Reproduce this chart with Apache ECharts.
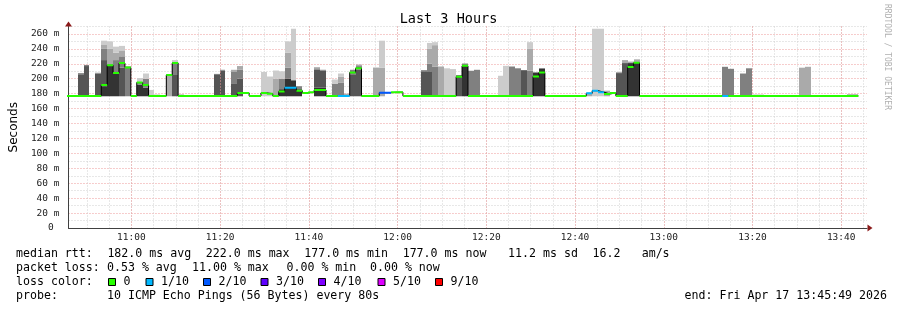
<!DOCTYPE html>
<html><head><meta charset="utf-8">
<script src="https://cdn.jsdelivr.net/npm/echarts@6/dist/echarts.min.js"></script>
<style>html,body{margin:0;padding:0;background:#fff}#c{width:897px;height:310px}</style>
</head><body><div id="c"></div>
<script>
// ---------- data ----------
const chartTitle = 'Last 3 Hours';
const endTime = '13:45:49';
const spanMinutes = 180;
const firstStepStart = '10:45:12';
const stepSeconds = 80;

// median rtt per 80 s step (ms)
const median = [
  177,177,177,177,177,177,191.5,218,207.6,221,
  215,177,195,191.5,177,177,177,205,221,177,
  177,177,177,177,177,177,177,177,177,181,
  181,177,177,181,180,177,183,188,188,184,
  181,182,185,185,177,177,177,177,208.4,214,
  177,177,177,181.3,181.3,182,182,177,177,177,
  177,177,177,177,177,177,202.7,217.3,177,177,
  177,177,177,177,177,177,177,177,177,203,
  208.4,177,177,177,177,177,177,177,180.4,184,
  182,179.5,181,177,177,215.6,221.3,177,177,177,
  177,177,177,177,177,177,177,177,177,177,
  177,177,177,177,177,177,177,177,177,177,
  177,177,177,177,177,177,177,177,177,177,
  177,177,177,177,null,null
];
// lost pings out of 10 per step
const loss = [
  0,0,0,0,0,0,0,0,0,0, 0,0,0,0,0,0,0,0,0,0,
  0,0,0,0,0,0,0,0,0,0, 0,0,0,0,0,0,0,1,1,0,
  0,0,0,0,0,0,1,1,0,0, 0,0,0,2,2,0,0,0,0,0,
  0,0,0,0,0,0,0,0,0,0, 0,0,0,0,0,0,0,0,0,0,
  0,0,0,0,0,0,0,0,1,1, 1,0,0,0,0,0,0,0,0,0,
  0,0,0,0,0,0,0,0,0,0, 0,1,0,0,0,0,0,0,0,0,
  0,0,0,0,0,0,0,0,0,0, 0,0,0,0,0,0
];
// smoke band tops, [step, top ms], darkest band first
const smokeL1 = [[6,190],[7,218],[8,207],[12,192],[13,188],[36,186],[37,200],[38,198],[39,186],[42,188],[43,188],[67,217],[79,208.4],[80,213.8],[95,221],[96,221]];
const smokeL2 = [[2,206],[3,217],[5,207],[6,225],[9,215],[18,205],[25,205],[26,210.7],[28,193],[29,200],[42,212],[43,211],[48,206],[49,212],[60,210],[61,210],[66,203],[77,211.5],[93,207.6],[94,221]];
const smokeL3 = [[2,207.5],[3,218.5],[5,208],[6,240],[8,225],[9,230],[10,215],[12,196],[13,200],[18,222],[25,206.5],[26,212],[28,209],[29,212],[36,200],[37,215],[39,190],[42,214],[43,212],[45,193],[46,195],[48,212],[49,217],[60,211.5],[61,220],[62,216],[66,205],[67,220.4],[68,210.7],[69,212],[75,216.4],[76,214],[78,211],[111,216],[112,213.3],[114,207],[115,214]];
const smokeL4 = [[6,246],[7,240],[8,235],[9,238],[10,217],[17,205],[19,179],[28,212],[29,217],[35,200],[37,235],[42,215.5],[46,203],[47,180],[49,219],[52,215],[53,215],[61,240],[62,245],[63,216.4],[78,240],[88,181],[91,184],[93,209],[94,225],[95,223],[96,226],[124,214.7],[125,216],[132,179.3],[133,179.3]];
const smokeL5 = [[6,251],[7,250],[8,243],[9,244],[12,201],[13,207],[14,185],[15,179],[17,206],[18,225],[33,209],[34,203],[35,211],[36,210],[37,250],[38,267],[45,199],[46,207],[53,251],[61,248],[62,249],[64,214],[65,213],[73,204],[74,217.3],[78,249],[89,267],[90,267],[116,179],[117,179],[124,215]];
const smokeBase = 176.5;

const yMax = 270;
const lossCounts = [0,1,2,3,4,5,9];
const lossLabels = ['0','1/10','2/10','3/10','4/10','5/10','9/10'];
const statsRtt = ['182.0 ms avg','222.0 ms max','177.0 ms min','177.0 ms now','11.2 ms sd','16.2','am/s'];
const statsLoss = ['0.53 % avg','11.00 % max','0.00 % min','0.00 % now'];
const probeText = '10 ICMP Echo Pings (56 Bytes) every 80s';
const endText = 'end: Fri Apr 17 13:45:49 2026';
const sideText = 'RRDTOOL / TOBI OETIKER';

// ---------- style ----------
const lossColors = ['#26ff00','#00b8ff','#0059ff','#5e00ff','#7e00ff','#dd00ff','#ff0000'];
const smokeColors = ['#333333','#555555','#808080','#aaaaaa','#cccccc'];
const MONO = '"DejaVu Sans Mono", monospace';
const GRID = {left: 67, right: 30, top: 26.5, bottom: 82};
const CH = 7.03; // legend character advance

// ---------- build ----------
const toMin = s => { const p = s.split(':').map(Number); return p[0]*60 + p[1] + p[2]/60; };
const xMax = toMin(endTime), xMin = xMax - spanMinutes;
const step0 = toMin(firstStepStart), stepMin = stepSeconds / 60;
const N = median.length;
const leftM = k => step0 + k * stepMin;
const rightM = k => step0 + (k + 1) * stepMin;

const layers = [smokeL1, smokeL2, smokeL3, smokeL4, smokeL5];
const tops = layers.map(pairs => { const a = new Array(N).fill(0); pairs.forEach(([k, v]) => { a[k] = v; }); return a; });
const smokeItems = [];
for (let k = 0; k < N; k++) {
  const t = tops.map(a => a[k]);
  if (t.some(v => v > smokeBase)) smokeItems.push([leftM(k), rightM(k), smokeBase].concat(t));
}

function clipRect(r, cs) {
  const x1 = Math.max(r.x, cs.x), x2 = Math.min(r.x + r.width, cs.x + cs.width);
  const y1 = Math.max(r.y, cs.y), y2 = Math.min(r.y + r.height, cs.y + cs.height);
  if (x2 <= x1 || y2 <= y1) return null;
  return {x: x1, y: y1, width: x2 - x1, height: y2 - y1};
}

const series = [];
series.push({
  type:'custom', xAxisIndex:0, yAxisIndex:0, silent:true, data: smokeItems,
  encode:{x:[0,1], y:[2]},
  renderItem(params, api) {
    const l = api.value(0), r = api.value(1);
    let prev = api.value(2);
    const children = [];
    for (let i = 0; i < smokeColors.length; i++) {
      const t = api.value(3 + i);
      if (t > prev) {
        const p1 = api.coord([l, t]), p2 = api.coord([r, prev]);
        const xa = Math.round(p1[0]), xb = Math.round(p2[0]);
        const rect = clipRect({x: xa, y: p1[1], width: xb - xa, height: p2[1] - p1[1]}, params.coordSys);
        if (rect) children.push({type:'rect', shape: rect, style:{fill: smokeColors[i]}});
        prev = t;
      }
    }
    return {type:'group', children};
  }
});

// black step outline of the median
const blackData = [];
for (let k = 0; k < N; k++) {
  if (median[k] == null) { blackData.push([leftM(k), '-']); continue; }
  blackData.push([leftM(k), median[k]], [rightM(k), median[k]]);
}
series.push({type:'line', data: blackData, symbol:'none', silent:true, xAxisIndex:0, yAxisIndex:0,
  lineStyle:{color:'#000', width:1}});

// coloured median segments by loss
lossCounts.forEach((cnt, idx) => {
  const d = [];
  for (let k = 0; k < N; k++) {
    if (median[k] == null || loss[k] !== cnt) continue;
    d.push([leftM(k), median[k]], [rightM(k), median[k]], [rightM(k), '-']);
  }
  if (d.length) series.push({type:'line', data: d, symbol:'none', silent:true, xAxisIndex:0, yAxisIndex:0,
    lineStyle:{color: lossColors[idx], width:2}});
});

const pad2 = n => String(n).padStart(2, '0');
const fmtTime = v => pad2(Math.floor(v / 60 + 1e-6)) + ':' + pad2(Math.round(v % 60));

const graphic = [];
const T = (x, y, text, extra) => graphic.push({type:'text', x, y, silent:true,
  style: Object.assign({text, fill:'#000', font:'11.6px ' + MONO, verticalAlign:'middle', align:'left'}, extra || {})});
const col = c => 16 + c * CH;
const rowY = [254, 268, 282, 296];
T(16, rowY[0], 'median rtt:');
[13, 27, 41, 55, 70, 82, 89].forEach((c, i) => T(col(c), rowY[0], statsRtt[i]));
T(16, rowY[1], 'packet loss:');
[107, 192, 286.5, 370].forEach((x, i) => T(x, rowY[1], statsLoss[i]));
T(16, rowY[2], 'loss color:');
const swX = [108.5, 146, 203.5, 261, 318.5, 378, 435.5];
swX.forEach((x, i) => {
  graphic.push({type:'rect', silent:true, shape:{x, y: rowY[2] - 3.5, width:7, height:7},
    style:{fill: lossColors[i], stroke:'#000', lineWidth:1}});
  T(x + 15, rowY[2], lossLabels[i]);
});
T(16, rowY[3], 'probe:');
T(107, rowY[3], probeText);
T(887, rowY[3], endText, {align:'right'});
graphic.push({type:'text', x: 887, y: 4, rotation: -Math.PI/2, silent:true,
  style:{text: sideText, fill:'#b0b0b0', font:'8px ' + MONO, align:'left', verticalAlign:'middle'}});

const option = {
  animation: false,
  backgroundColor: '#fff',
  title: {text: chartTitle, left: 'center', top: 12, padding: 0,
    textStyle: {fontFamily: MONO, fontSize: 13.5, fontWeight: 'normal', color: '#000'}},
  grid: GRID,
  xAxis: [
    {type:'value', min:xMin, max:xMax, minInterval:20, maxInterval:20, splitNumber:9, position:'bottom', z: 3,
      axisLine:{show:true, onZero:false, lineStyle:{color:'#404040', width:1}}, axisTick:{show:false},
      axisLabel:{formatter: fmtTime, showMinLabel:false, showMaxLabel:false, fontFamily: MONO, fontSize: 9.5, color:'#222', margin: 5},
      splitLine:{show:true, showMinLine:false, showMaxLine:false, lineStyle:{color:'#ee9a9a', width:1, type:[1,2]}}},
    {type:'value', min:xMin, max:xMax, minInterval:5, maxInterval:5, splitNumber:36, position:'bottom', z: 1,
      axisLine:{show:false}, axisTick:{show:false}, axisLabel:{show:false},
      splitLine:{show:true, showMinLine:false, showMaxLine:false, lineStyle:{color:'#d0d0d0', width:1, type:[1,2]}}},
    {type:'value', min:xMin, max:xMax, position:'bottom',
      axisLine:{show:true, onZero:false, symbol:['none','triangle'], symbolSize:[7,5], symbolOffset:[0,3], lineStyle:{color:'#8b1a1a', width:0}},
      axisTick:{show:false}, axisLabel:{show:false}, splitLine:{show:false}}
  ],
  yAxis: [
    {type:'value', min:0, max:yMax, interval:10, position:'left',
      name:'Seconds', nameLocation:'middle', nameGap:48, nameRotate:90,
      nameTextStyle:{fontFamily:'"DejaVu Sans", sans-serif', fontSize:12, color:'#000'},
      axisLine:{show:true, lineStyle:{color:'#404040', width:1}}, axisTick:{show:false},
      axisLabel:{formatter: v => (v % 20 === 0 ? (v === 0 ? '0 ' : v + ' m') : ''), fontFamily: MONO, fontSize: 9.5, color:'#222', margin: 9},
      splitLine:{show:true, lineStyle:{color:['#ee9a9a','#d0d0d0'], width:1, type:[1,2]}}},
    {type:'value', min:0, max:yMax, position:'left',
      axisLine:{show:true, symbol:['none','triangle'], symbolSize:[7,5], symbolOffset:[0,2.5], lineStyle:{color:'#8b1a1a', width:0}},
      axisTick:{show:false}, axisLabel:{show:false}, splitLine:{show:false}}
  ],
  series,
  graphic
};
const chart = echarts.init(document.getElementById('c'), null, {renderer:'canvas'});
chart.setOption(option);
</script></body></html>
